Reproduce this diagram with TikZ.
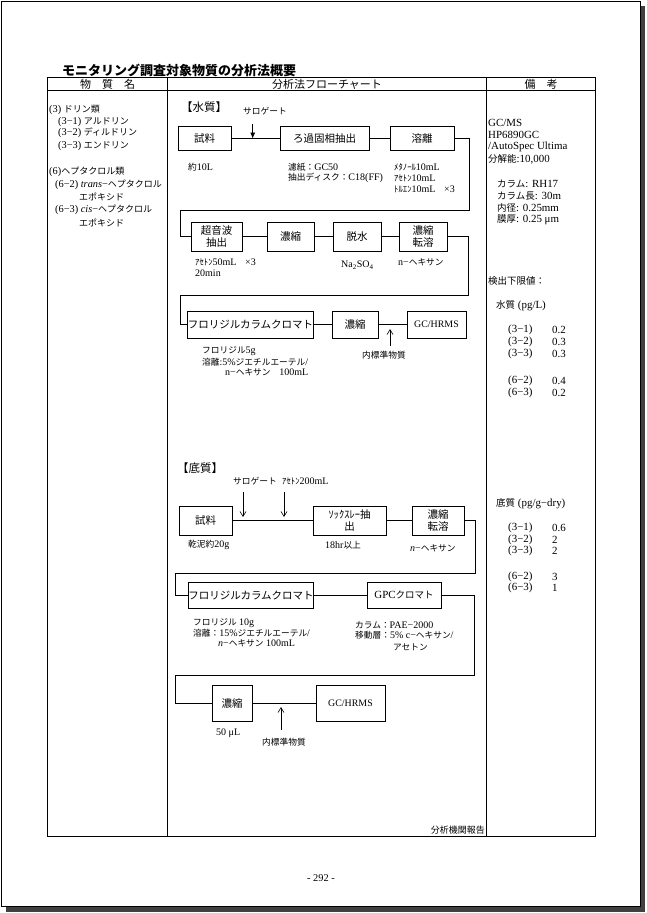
\documentclass[tikz,border=0pt]{standalone}
\usepackage{fontspec}
\setmainfont{Liberation Serif}[Scale=1.15]
\newfontfamily\jpfont{Noto Sans CJK JP}
\usetikzlibrary{arrows.meta}

% Japanese characters switch to the CJK font by themselves
\newXeTeXintercharclass\jpclass
\newcount\jpc
\def\setjprange#1#2{\jpc=#1\relax
  \loop\XeTeXcharclass\jpc=\jpclass
  \ifnum\jpc<#2\relax\advance\jpc by 1 \repeat}
\setjprange{"3000}{"30FF}
\setjprange{"4E00}{"9FFF}
\setjprange{"FF00}{"FFEF}
\XeTeXinterchartoks 0 \jpclass = {\begingroup\jpfont}
\XeTeXinterchartoks 4095 \jpclass = {\begingroup\jpfont}
\XeTeXinterchartoks \jpclass 0 = {\endgroup}
\XeTeXinterchartoks \jpclass 4095 = {\endgroup}
\XeTeXinterchartokenstate=1

\begin{document}
\begin{tikzpicture}[
        x=1pt, y=-1pt,
        box/.style={draw, line width=1pt, inner sep=0pt, align=center,
            font=\fontsize{10.5}{12.5}\selectfont},
        gc/.style={font=\fontsize{8.6}{10}\selectfont},
        lab/.style={anchor=west, inner sep=0pt, font=\fontsize{8.7}{10}\selectfont},
        rem/.style={anchor=west, inner sep=0pt, font=\fontsize{9.5}{11}\selectfont},
        sub/.style={anchor=west, inner sep=0pt, font=\fontsize{9}{11}\selectfont},
        hd/.style={inner sep=0pt, font=\fontsize{11}{13}\selectfont},
        tag/.style={anchor=west, inner sep=0pt, font=\fontsize{11.5}{13}\selectfont},
        flow/.style={line width=0.8pt},
        tbl/.style={line width=0.9pt},
        feed/.style={line width=0.6pt, -{Straight Barb[length=5pt,width=6pt]}},
        feedf/.style={line width=0.6pt, -{Latex[length=6pt,width=5pt]}}
    ]
    \useasboundingbox (0,0) rectangle (647,913);

    % page frame
    \fill[black!75] (640,6) rectangle (645,911.5);
    \fill[black!75] (6,906.5) rectangle (645,911.5);
    \draw[line width=0.8pt] (1.5,1.5) rectangle (640,906.5);

    \node[anchor=west, inner sep=0pt, font=\bfseries\fontsize{13}{15}\selectfont] (title)
        at (62,70) {モニタリング調査対象物質の分析法概要};

    % table
    \draw[tbl] (47.5,77) rectangle (595,836);
    \draw[tbl] (47.5,90.5) -- (595,90.5);
    \draw[tbl] (167.5,77) -- (167.5,836);
    \draw[tbl] (486,77) -- (486,836);
    \node[hd] (h1) at (107.5,84) {物　質　名};
    \node[hd] (h2) at (327,84) {分析法フローチャート};
    \node[hd] (h3) at (541,84) {備　考};

    % substances
    \node[sub] (c3)   at (49,110) {(3) ドリン類};
    \node[sub] (c31)  at (58,122) {(3−1) アルドリン};
    \node[sub] (c32)  at (58,133) {(3−2) ディルドリン};
    \node[sub] (c33)  at (58,146) {(3−3) エンドリン};
    \node[sub] (c6)   at (49,172) {(6)ヘプタクロル類};
    \node[sub] (c62)  at (55,185) {(6−2) \textit{trans}−ヘプタクロル};
    \node[sub] (c62b) at (79,197) {エポキシド};
    \node[sub] (c63)  at (55,210) {(6−3) \textit{cis}−ヘプタクロル};
    \node[sub] (c63b) at (79,223) {エポキシド};

    % water
    \node[tag] (water) at (181,107) {【水質】};
    \node[lab] (wsurl) at (243,111) {サロゲート};

    \node[box, minimum width=53pt, minimum height=23.5pt] (w1) at (204.5,138.5) {試料};
    \node[box, minimum width=89pt, minimum height=23.5pt] (w2) at (324.5,138.5) {ろ過固相抽出};
    \node[box, minimum width=64pt, minimum height=23.5pt] (w3) at (422,138.5) {溶離};
    \node[box, minimum width=51pt, minimum height=29pt] (w4) at (216.5,236.5) {超音波\\抽出};
    \node[box, minimum width=47pt, minimum height=29pt] (w5) at (290.5,236.5) {濃縮};
    \node[box, minimum width=48pt, minimum height=29pt] (w6) at (357,236.5) {脱水};
    \node[box, minimum width=48pt, minimum height=29pt] (w7) at (423,236.5) {濃縮\\転溶};
    \node[box, minimum width=115pt, minimum height=27pt] (w8) at (250.5,324.5) {フロリジルカラムクロマト};
    \node[box, minimum width=46pt, minimum height=27pt] (w9) at (355,324.5) {濃縮};
    \node[box, gc, minimum width=59pt, minimum height=27pt] (w10) at (436.5,324.5) {GC/HRMS};

    \coordinate (wr1) at (469,210);
    \coordinate (wl1) at (180,210);
    \coordinate (wr2) at (468,295);
    \coordinate (wl2) at (180,295);
    \draw[flow] (w1) -- (w2);
    \draw[flow] (w2) -- (w3);
    \draw[flow] (w3.east) -| (wr1) -- (wl1) |- (w4.west);
    \draw[flow] (w4) -- (w5);
    \draw[flow] (w5) -- (w6);
    \draw[flow] (w6) -- (w7);
    \draw[flow] (w7.east) -| (wr2) -- (wl2) |- (w8.west);
    \draw[flow] (w8) -- (w9);
    \draw[flow] (w9) -- (w10);

    \coordinate (wsur) at (252.7,124);
    \draw[feedf] (wsur) -- (wsur |- w1);
    \coordinate (wis) at (390,346);
    \draw[feed] (wis) -- ++(0,-17);

    \node[lab] (w1a) at (188,167) {約10L};
    \node[lab] (w2a) at (288,167) {濾紙：GC50};
    \node[lab] (w2b) at (288,178) {抽出ディスク：C18(FF)};
    \node[lab] (w3a) at (394,167) {ﾒﾀﾉｰﾙ10mL};
    \node[lab] (w3b) at (394,178) {ｱｾﾄﾝ10mL};
    \node[lab] (w3c) at (394,189) {ﾄﾙｴﾝ10mL　×3};
    \node[lab] (w4a) at (195,262) {ｱｾﾄﾝ50mL　×3};
    \node[lab] (w4b) at (195,273) {20min};
    \node[lab] (w6a) at (341,265) {Na\textsubscript{2}SO\textsubscript{4}};
    \node[lab] (w7a) at (398,262) {n−ヘキサン};
    \node[lab] (w8a) at (202,351) {フロリジル5g};
    \node[lab] (w8b) at (202,362) {溶離:5\%ジエチルエーテル/};
    \node[lab] (w8c) at (225,372) {n−ヘキサン　100mL};
    \node[lab] (wisl) at (362,355) {内標準物質};

    % sediment
    \node[tag] (sed) at (177,468) {【底質】};
    \node[lab] (ssurl) at (233,481) {サロゲート};
    \node[lab] (sacel) at (282,481) {ｱｾﾄﾝ200mL};

    \node[box, minimum width=53pt, minimum height=29pt] (s1) at (205.5,520.5) {試料};
    \node[box, minimum width=73pt, minimum height=29pt] (s2) at (349.5,520.5) {ｿｯｸｽﾚｰ抽\\出};
    \node[box, minimum width=52pt, minimum height=29pt] (s3) at (438,520.5) {濃縮\\転溶};
    \node[box, minimum width=114pt, minimum height=26pt] (s4) at (251,595) {フロリジルカラムクロマト};
    \node[box, minimum width=74pt, minimum height=26pt, font=\fontsize{9.5}{11}\selectfont] (s5) at (404,595) {GPCクロマト};
    \node[box, minimum width=40pt, minimum height=36pt] (s6) at (232,703) {濃縮};
    \node[box, gc, minimum width=69pt, minimum height=36pt] (s7) at (350.5,703) {GC/HRMS};

    \coordinate (sr1) at (475,573);
    \coordinate (sl1) at (175,573);
    \coordinate (sr2) at (474,675);
    \coordinate (sl2) at (175,675);
    \draw[flow] (s1) -- (s2);
    \draw[flow] (s2) -- (s3);
    \draw[flow] (s3.east) -| (sr1) -- (sl1) |- (s4.west);
    \draw[flow] (s4) -- (s5);
    \draw[flow] (s5.east) -| (sr2) -- (sl2) |- (s6.west);
    \draw[flow] (s6) -- (s7);

    \coordinate (ssur) at (243,492);
    \coordinate (sace) at (284,492);
    \coordinate (sis) at (281,730);
    \draw[feed] (ssur) -- ++(0,25);
    \draw[feed] (sace) -- ++(0,25);
    \draw[feed] (sis) -- ++(0,-23);

    \node[lab] (s1a) at (188,545) {乾泥約20g};
    \node[lab] (s2a) at (325,545) {18hr以上};
    \node[lab] (s3a) at (410,548) {\textit{n}−ヘキサン};
    \node[lab] (s4a) at (193,623) {フロリジル 10g};
    \node[lab] (s4b) at (193,633) {溶離：15\%ジエチルエーテル/};
    \node[lab] (s4c) at (218,643) {\textit{n}−ヘキサン 100mL};
    \node[lab] (s5a) at (355,625) {カラム：PAE−2000};
    \node[lab] (s5b) at (355,635) {移動層：5\% c−ヘキサン/};
    \node[lab] (s5c) at (393,647) {アセトン};
    \node[lab] (s6a) at (216,733) {50 μL};
    \node[lab] (sisl) at (262,742) {内標準物質};

    % remarks
    \node[rem] (r1) at (488,123) {GC/MS};
    \node[rem] (r2) at (488,135) {HP6890GC};
    \node[rem] (r3) at (488,147) {/AutoSpec Ultima};
    \node[rem] (r4) at (488,159) {分解能:10,000};
    \node[rem] (r5) at (497,184) {カラム: RH17};
    \node[rem] (r6) at (497,196) {カラム長: 30m};
    \node[rem] (r7) at (497,208) {内径: 0.25mm};
    \node[rem] (r8) at (497,220) {膜厚: 0.25 μm};
    \node[rem] (r9) at (488,281) {検出下限値：};
    \node[rem] (rw) at (496,306) {水質 (pg/L)};
    \node[rem] (rw1) at (508,330) {(3−1)};
    \node[rem] (rw2) at (508,342) {(3−2)};
    \node[rem] (rw3) at (508,354) {(3−3)};
    \node[rem] (rw4) at (508,381) {(6−2)};
    \node[rem] (rw5) at (508,393) {(6−3)};
    \node[rem] (vw1) at (552,330) {0.2};
    \node[rem] (vw2) at (552,342) {0.3};
    \node[rem] (vw3) at (552,354) {0.3};
    \node[rem] (vw4) at (552,381) {0.4};
    \node[rem] (vw5) at (552,393) {0.2};
    \node[rem] (rs) at (496,504) {底質 (pg/g−dry)};
    \node[rem] (rs1) at (508,528) {(3−1)};
    \node[rem] (rs2) at (508,540) {(3−2)};
    \node[rem] (rs3) at (508,551) {(3−3)};
    \node[rem] (rs4) at (508,577) {(6−2)};
    \node[rem] (rs5) at (508,588) {(6−3)};
    \node[rem] (vs1) at (552,528) {0.6};
    \node[rem] (vs2) at (552,540) {2};
    \node[rem] (vs3) at (552,551) {2};
    \node[rem] (vs4) at (552,577) {3};
    \node[rem] (vs5) at (552,588) {1};

    \node[anchor=east, inner sep=0pt, font=\fontsize{9}{11}\selectfont] (src) at (485,830) {分析機関報告};
    \node[inner sep=0pt, font=\fontsize{9}{11}\selectfont] (page) at (321,878) {- 292 -};
\end{tikzpicture}
\end{document}
